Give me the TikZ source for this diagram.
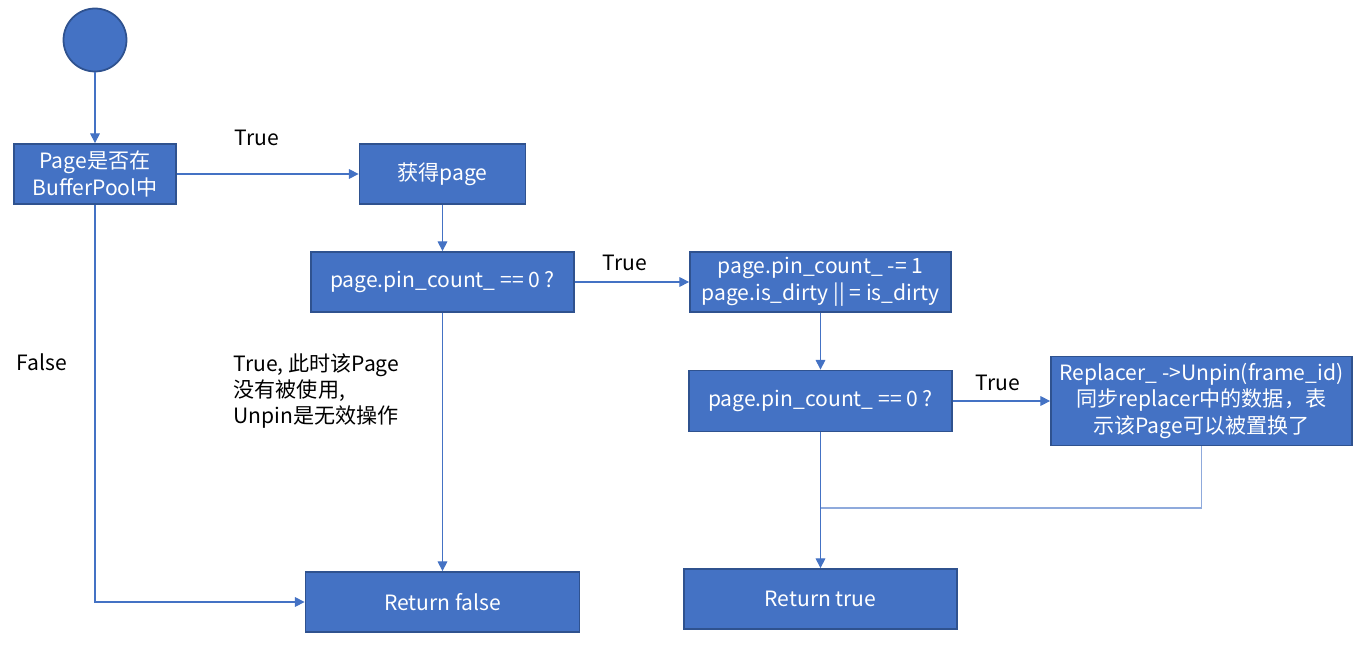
\documentclass[tikz,border=0pt]{standalone}
\usepackage{fontspec}
\setmainfont{Noto Sans CJK SC}
\usetikzlibrary{arrows.meta}
\definecolor{boxblue}{HTML}{4472C4}
\definecolor{boxedge}{HTML}{2F528F}
\definecolor{joinblue}{HTML}{8FAADC}

\begin{document}
\begin{tikzpicture}[
  box/.style={draw=boxedge,line width=1pt,fill=boxblue,text=white,align=center,inner sep=0pt,font=\fontsize{12}{15.3}\selectfont},
  flow/.style={draw=boxblue,line width=0.6pt,-{Triangle[length=5.5pt,width=5.5pt]}},
  lbl/.style={font=\fontsize{12}{15}\selectfont}]
\useasboundingbox (0,0) rectangle (27.3,-12.94);
\node[circle,draw=boxedge,fill=boxblue,line width=1pt,minimum size=1.26cm,inner sep=0pt] (start) at (1.9,-0.8) {};
\node[box,minimum width=3.24cm,minimum height=1.2cm] (inpool) at (1.9,-3.48) {Page是否在\\BufferPool中};
\node[box,minimum width=3.32cm,minimum height=1.2cm] (getpage) at (8.85,-3.48) {获得page};
\node[box,minimum width=5.26cm,minimum height=1.2cm] (pincheck) at (8.85,-5.64) {page.pin\_count\_ == 0 ?};
\node[box,minimum width=5.22cm,minimum height=1.2cm] (decpin) at (16.41,-5.64) {page.pin\_count\_ -= 1\\page.is\_dirty || = is\_dirty};
\node[box,minimum width=5.26cm,minimum height=1.22cm] (pincheck2) at (16.41,-8.02) {page.pin\_count\_ == 0 ?};
\node[box,minimum width=6.02cm,minimum height=1.78cm] (unpin) at (24.03,-8.02) {Replacer\_ ->Unpin(frame\_id)\\同步replacer中的数据，表\\示该Page可以被置换了};
\node[box,minimum width=5.48cm,minimum height=1.2cm] (retfalse) at (8.85,-12.04) {Return false};
\node[box,minimum width=5.46cm,minimum height=1.2cm] (rettrue) at (16.41,-11.98) {Return true};
\coordinate (join) at (16.41,-10.16);
% labels
\node[lbl] (ltrue1) at (5.14,-2.76) {True};
\node[lbl] (ltrue2) at (12.5,-5.26) {True};
\node[lbl] (ltrue3) at (19.96,-7.66) {True};
\node[lbl] (lfalse) at (0.84,-7.24) {False};
\node[lbl,align=left,anchor=west] (lnote) at (4.55,-7.82) {True, 此时该Page\\没有被使用,\\Unpin是无效操作};
% connectors
\draw[flow] (start) -- (inpool);
\draw[flow] (inpool) -- (getpage);
\draw[flow] (getpage) -- (pincheck);
\draw[flow] (pincheck) -- (decpin);
\draw[flow] (decpin) -- (pincheck2);
\draw[flow] (pincheck2) -- (unpin);
\draw[flow] (pincheck) -- (retfalse);
\draw[flow] (inpool.south) |- (retfalse.west);
\draw[joinblue,line width=0.6pt] (unpin.south) |- (join);
\draw[flow] (pincheck2) -- (rettrue);
\end{tikzpicture}
\end{document}
